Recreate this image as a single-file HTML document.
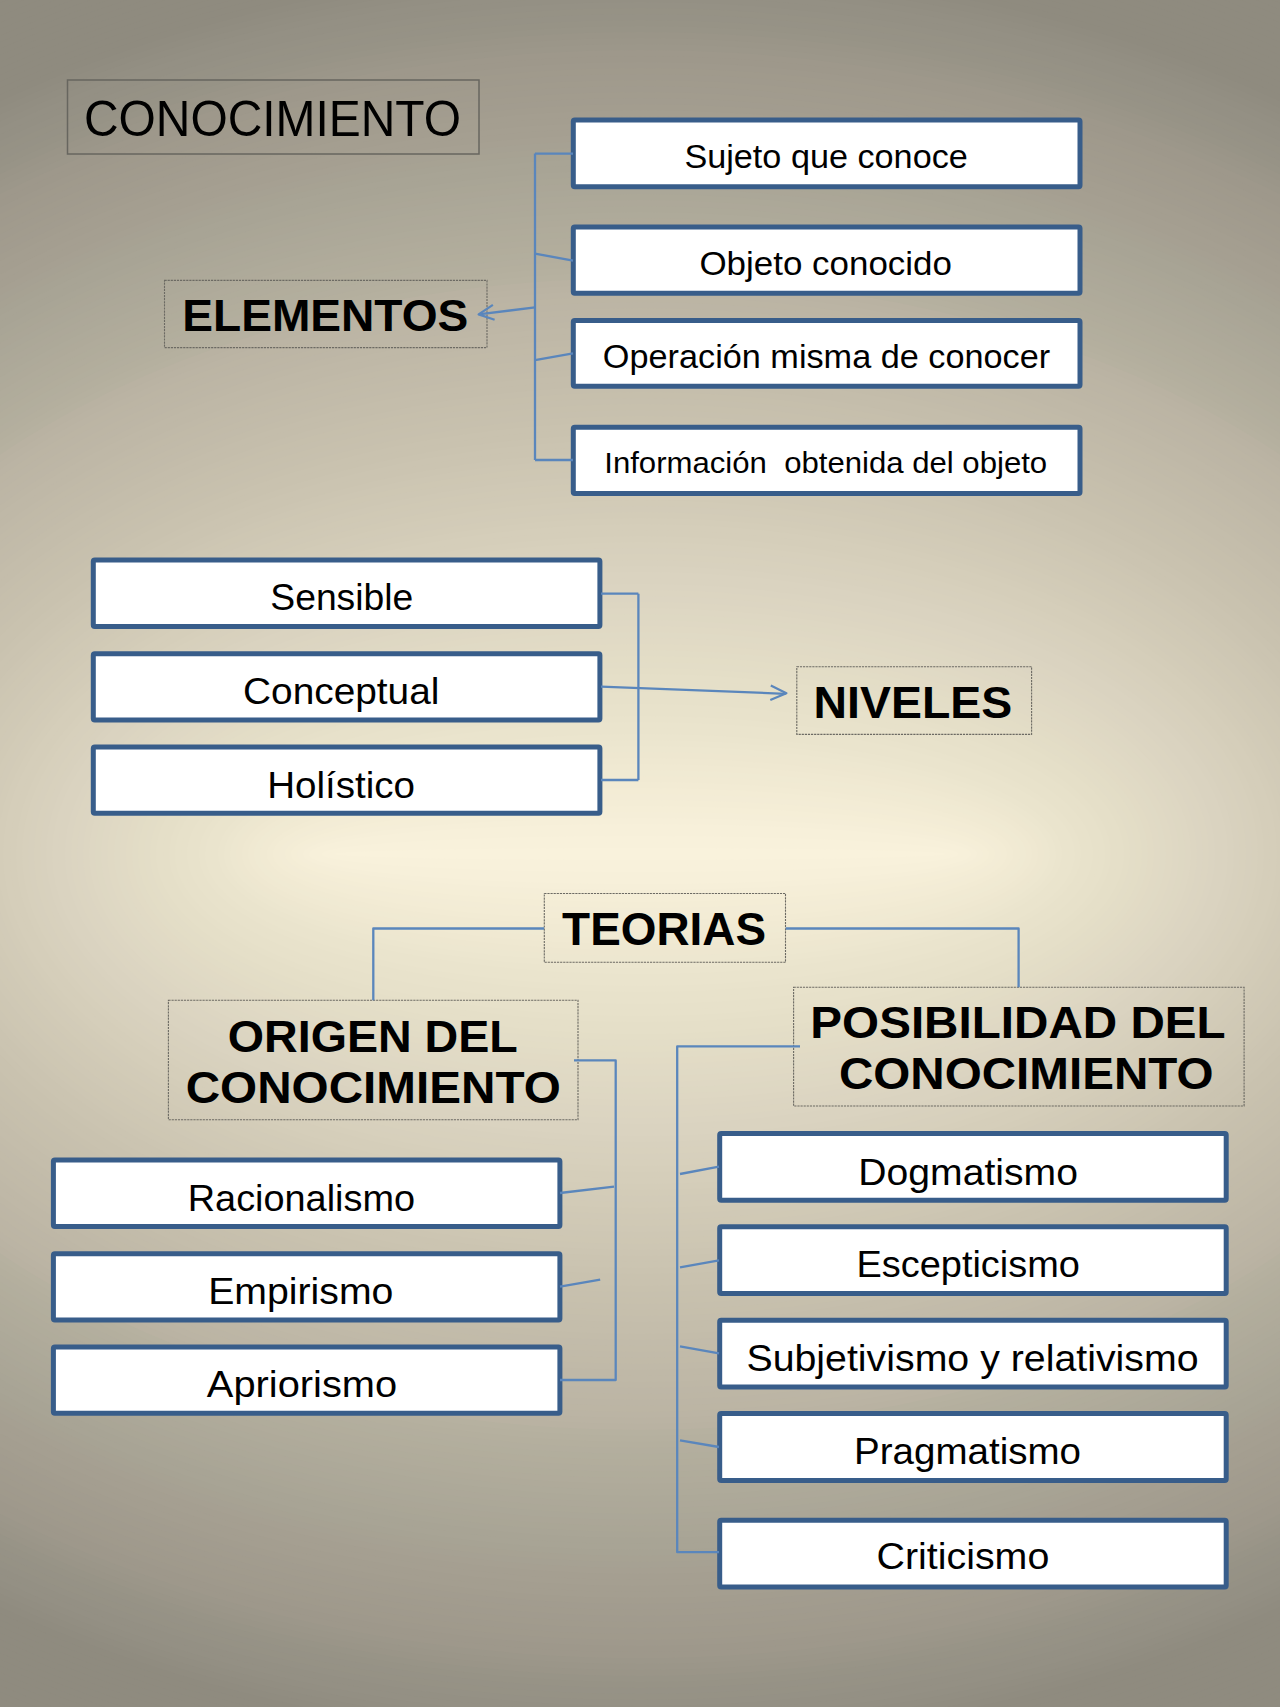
<!DOCTYPE html><html><head><meta charset="utf-8"><style>
html,body{margin:0;padding:0;}body{width:1280px;height:1707px;overflow:hidden;position:relative;background:#b5ae9c;}
#bg{position:absolute;left:0;top:0;width:1280px;height:1707px;}
svg{position:absolute;left:0;top:0;}
text{font-family:"Liberation Sans",sans-serif;fill:#000;}
</style></head><body>
<svg id="bg" width="1280" height="1707" viewBox="0 0 1280 1707"><rect width="1280" height="1707" fill="#8f8b7f"/><ellipse cx="640" cy="854" rx="1371" ry="1050" fill="#8f8b7f"/><ellipse cx="640" cy="854" rx="1365" ry="1044" fill="#8f8b7f"/><ellipse cx="640" cy="854" rx="1359" ry="1038" fill="#8f8b7f"/><ellipse cx="640" cy="854" rx="1353" ry="1032" fill="#8f8b7f"/><ellipse cx="640" cy="854" rx="1347" ry="1026" fill="#8f8b7f"/><ellipse cx="640" cy="854" rx="1340" ry="1020" fill="#8f8b7f"/><ellipse cx="640" cy="854" rx="1334" ry="1014" fill="#8f8b7f"/><ellipse cx="640" cy="854" rx="1328" ry="1008" fill="#8f8b7f"/><ellipse cx="640" cy="854" rx="1322" ry="1002" fill="#8f8b7f"/><ellipse cx="640" cy="854" rx="1316" ry="996" fill="#8f8b7f"/><ellipse cx="640" cy="854" rx="1310" ry="990" fill="#8f8b7f"/><ellipse cx="640" cy="854" rx="1304" ry="984" fill="#8f8b7f"/><ellipse cx="640" cy="854" rx="1298" ry="978" fill="#8f8b7f"/><ellipse cx="640" cy="854" rx="1291" ry="972" fill="#8f8b7f"/><ellipse cx="640" cy="854" rx="1285" ry="966" fill="#8f8b7f"/><ellipse cx="640" cy="854" rx="1279" ry="960" fill="#8f8b7f"/><ellipse cx="640" cy="854" rx="1273" ry="954" fill="#8f8b7f"/><ellipse cx="640" cy="854" rx="1267" ry="948" fill="#8f8b7f"/><ellipse cx="640" cy="854" rx="1261" ry="942" fill="#8f8b7f"/><ellipse cx="640" cy="854" rx="1255" ry="936" fill="#8f8b7f"/><ellipse cx="640" cy="854" rx="1249" ry="930" fill="#8f8b7f"/><ellipse cx="640" cy="854" rx="1242" ry="924" fill="#8f8b7f"/><ellipse cx="640" cy="854" rx="1236" ry="918" fill="#8f8b7f"/><ellipse cx="640" cy="854" rx="1230" ry="912" fill="#8f8b7f"/><ellipse cx="640" cy="854" rx="1224" ry="906" fill="#8f8b7f"/><ellipse cx="640" cy="854" rx="1218" ry="900" fill="#8f8b7f"/><ellipse cx="640" cy="854" rx="1212" ry="894" fill="#8f8b7f"/><ellipse cx="640" cy="854" rx="1206" ry="888" fill="#908c80"/><ellipse cx="640" cy="854" rx="1200" ry="882" fill="#918d81"/><ellipse cx="640" cy="854" rx="1194" ry="876" fill="#928e82"/><ellipse cx="640" cy="854" rx="1187" ry="870" fill="#938f83"/><ellipse cx="640" cy="854" rx="1181" ry="864" fill="#949084"/><ellipse cx="640" cy="854" rx="1175" ry="858" fill="#949084"/><ellipse cx="640" cy="854" rx="1169" ry="852" fill="#959185"/><ellipse cx="640" cy="854" rx="1163" ry="846" fill="#969285"/><ellipse cx="640" cy="854" rx="1157" ry="840" fill="#969286"/><ellipse cx="640" cy="854" rx="1151" ry="834" fill="#979386"/><ellipse cx="640" cy="854" rx="1145" ry="828" fill="#989487"/><ellipse cx="640" cy="854" rx="1138" ry="822" fill="#9a9588"/><ellipse cx="640" cy="854" rx="1132" ry="816" fill="#9b9689"/><ellipse cx="640" cy="854" rx="1126" ry="810" fill="#9c978a"/><ellipse cx="640" cy="854" rx="1120" ry="804" fill="#9e988b"/><ellipse cx="640" cy="854" rx="1114" ry="798" fill="#9e988b"/><ellipse cx="640" cy="854" rx="1108" ry="792" fill="#9f998c"/><ellipse cx="640" cy="854" rx="1102" ry="786" fill="#a09a8c"/><ellipse cx="640" cy="854" rx="1096" ry="780" fill="#a09a8d"/><ellipse cx="640" cy="854" rx="1089" ry="774" fill="#a19b8d"/><ellipse cx="640" cy="854" rx="1083" ry="768" fill="#a19b8e"/><ellipse cx="640" cy="854" rx="1077" ry="762" fill="#a29c8e"/><ellipse cx="640" cy="854" rx="1071" ry="756" fill="#a29c8f"/><ellipse cx="640" cy="854" rx="1065" ry="750" fill="#a39d8f"/><ellipse cx="640" cy="854" rx="1059" ry="744" fill="#a49e90"/><ellipse cx="640" cy="854" rx="1053" ry="738" fill="#a49e90"/><ellipse cx="640" cy="854" rx="1047" ry="732" fill="#a59f91"/><ellipse cx="640" cy="854" rx="1041" ry="726" fill="#a59f91"/><ellipse cx="640" cy="854" rx="1034" ry="720" fill="#a6a092"/><ellipse cx="640" cy="854" rx="1028" ry="714" fill="#a6a193"/><ellipse cx="640" cy="854" rx="1022" ry="708" fill="#a7a293"/><ellipse cx="640" cy="854" rx="1016" ry="702" fill="#a7a394"/><ellipse cx="640" cy="854" rx="1010" ry="696" fill="#a8a495"/><ellipse cx="640" cy="854" rx="1004" ry="690" fill="#a8a495"/><ellipse cx="640" cy="854" rx="998" ry="684" fill="#a9a596"/><ellipse cx="640" cy="854" rx="992" ry="678" fill="#aaa696"/><ellipse cx="640" cy="854" rx="985" ry="672" fill="#aba697"/><ellipse cx="640" cy="854" rx="979" ry="666" fill="#aba798"/><ellipse cx="640" cy="854" rx="973" ry="660" fill="#aca898"/><ellipse cx="640" cy="854" rx="967" ry="654" fill="#ada899"/><ellipse cx="640" cy="854" rx="961" ry="648" fill="#ada999"/><ellipse cx="640" cy="854" rx="955" ry="642" fill="#aeaa9a"/><ellipse cx="640" cy="854" rx="949" ry="636" fill="#afaa9a"/><ellipse cx="640" cy="854" rx="943" ry="630" fill="#b0ab9b"/><ellipse cx="640" cy="854" rx="936" ry="624" fill="#b0ac9b"/><ellipse cx="640" cy="854" rx="930" ry="618" fill="#b1ac9c"/><ellipse cx="640" cy="854" rx="924" ry="612" fill="#b2ad9c"/><ellipse cx="640" cy="854" rx="918" ry="606" fill="#b2ae9d"/><ellipse cx="640" cy="854" rx="912" ry="600" fill="#b3ae9e"/><ellipse cx="640" cy="854" rx="906" ry="594" fill="#b4af9e"/><ellipse cx="640" cy="854" rx="900" ry="588" fill="#b5b09f"/><ellipse cx="640" cy="854" rx="894" ry="582" fill="#b6b1a0"/><ellipse cx="640" cy="854" rx="888" ry="576" fill="#b9b2a2"/><ellipse cx="640" cy="854" rx="881" ry="570" fill="#bab3a3"/><ellipse cx="640" cy="854" rx="875" ry="564" fill="#bbb4a4"/><ellipse cx="640" cy="854" rx="869" ry="558" fill="#bcb5a4"/><ellipse cx="640" cy="854" rx="863" ry="552" fill="#bcb5a5"/><ellipse cx="640" cy="854" rx="857" ry="546" fill="#bdb6a5"/><ellipse cx="640" cy="854" rx="851" ry="540" fill="#bdb6a6"/><ellipse cx="640" cy="854" rx="845" ry="534" fill="#beb7a6"/><ellipse cx="640" cy="854" rx="839" ry="528" fill="#bfb8a7"/><ellipse cx="640" cy="854" rx="832" ry="522" fill="#bfb8a7"/><ellipse cx="640" cy="854" rx="826" ry="516" fill="#c0b9a8"/><ellipse cx="640" cy="854" rx="820" ry="510" fill="#c1baa8"/><ellipse cx="640" cy="854" rx="814" ry="504" fill="#c1baa9"/><ellipse cx="640" cy="854" rx="808" ry="498" fill="#c2bba9"/><ellipse cx="640" cy="854" rx="802" ry="492" fill="#c2bbaa"/><ellipse cx="640" cy="854" rx="796" ry="486" fill="#c3bcaa"/><ellipse cx="640" cy="854" rx="790" ry="480" fill="#c4bdab"/><ellipse cx="640" cy="854" rx="783" ry="474" fill="#c4bdab"/><ellipse cx="640" cy="854" rx="777" ry="468" fill="#c5beac"/><ellipse cx="640" cy="854" rx="771" ry="462" fill="#c6bfac"/><ellipse cx="640" cy="854" rx="765" ry="456" fill="#c6bfad"/><ellipse cx="640" cy="854" rx="759" ry="450" fill="#c7c0ad"/><ellipse cx="640" cy="854" rx="753" ry="444" fill="#c7c0ae"/><ellipse cx="640" cy="854" rx="747" ry="438" fill="#c8c1ae"/><ellipse cx="640" cy="854" rx="741" ry="432" fill="#c9c2af"/><ellipse cx="640" cy="854" rx="735" ry="426" fill="#c9c2af"/><ellipse cx="640" cy="854" rx="728" ry="420" fill="#cac3b0"/><ellipse cx="640" cy="854" rx="722" ry="414" fill="#cbc4b1"/><ellipse cx="640" cy="854" rx="716" ry="408" fill="#cbc4b1"/><ellipse cx="640" cy="854" rx="710" ry="402" fill="#ccc5b2"/><ellipse cx="640" cy="854" rx="704" ry="396" fill="#cdc6b3"/><ellipse cx="640" cy="854" rx="698" ry="390" fill="#cec7b3"/><ellipse cx="640" cy="854" rx="692" ry="384" fill="#cec7b4"/><ellipse cx="640" cy="854" rx="686" ry="378" fill="#cfc8b5"/><ellipse cx="640" cy="854" rx="679" ry="372" fill="#d0c9b5"/><ellipse cx="640" cy="854" rx="673" ry="366" fill="#d0c9b6"/><ellipse cx="640" cy="854" rx="667" ry="360" fill="#d1cab6"/><ellipse cx="640" cy="854" rx="661" ry="354" fill="#d2cbb7"/><ellipse cx="640" cy="854" rx="655" ry="348" fill="#d2cbb8"/><ellipse cx="640" cy="854" rx="649" ry="342" fill="#d3ccb8"/><ellipse cx="640" cy="854" rx="643" ry="336" fill="#d4cdb9"/><ellipse cx="640" cy="854" rx="637" ry="330" fill="#d5ceba"/><ellipse cx="640" cy="854" rx="630" ry="324" fill="#d5ceba"/><ellipse cx="640" cy="854" rx="624" ry="318" fill="#d6cfbb"/><ellipse cx="640" cy="854" rx="618" ry="312" fill="#d7d0bc"/><ellipse cx="640" cy="854" rx="612" ry="306" fill="#d7d0bd"/><ellipse cx="640" cy="854" rx="606" ry="300" fill="#d8d1bd"/><ellipse cx="640" cy="854" rx="600" ry="294" fill="#d8d1be"/><ellipse cx="640" cy="854" rx="594" ry="288" fill="#d9d2bf"/><ellipse cx="640" cy="854" rx="588" ry="282" fill="#dad3c0"/><ellipse cx="640" cy="854" rx="582" ry="276" fill="#dad3c0"/><ellipse cx="640" cy="854" rx="575" ry="270" fill="#dbd4c1"/><ellipse cx="640" cy="854" rx="569" ry="264" fill="#dcd5c1"/><ellipse cx="640" cy="854" rx="563" ry="258" fill="#dcd5c2"/><ellipse cx="640" cy="854" rx="557" ry="252" fill="#ddd6c2"/><ellipse cx="640" cy="854" rx="551" ry="246" fill="#ded7c3"/><ellipse cx="640" cy="854" rx="545" ry="240" fill="#ded8c3"/><ellipse cx="640" cy="854" rx="539" ry="234" fill="#dfd8c4"/><ellipse cx="640" cy="854" rx="533" ry="228" fill="#e0d9c4"/><ellipse cx="640" cy="854" rx="526" ry="222" fill="#e0dac5"/><ellipse cx="640" cy="854" rx="520" ry="216" fill="#e1dac5"/><ellipse cx="640" cy="854" rx="514" ry="210" fill="#e2dbc5"/><ellipse cx="640" cy="854" rx="508" ry="204" fill="#e2dcc6"/><ellipse cx="640" cy="854" rx="502" ry="198" fill="#e3ddc6"/><ellipse cx="640" cy="854" rx="496" ry="192" fill="#e3ddc7"/><ellipse cx="640" cy="854" rx="490" ry="186" fill="#e4dec7"/><ellipse cx="640" cy="854" rx="484" ry="180" fill="#e5dfc8"/><ellipse cx="640" cy="854" rx="477" ry="174" fill="#e5dfc8"/><ellipse cx="640" cy="854" rx="471" ry="168" fill="#e6e0c9"/><ellipse cx="640" cy="854" rx="465" ry="162" fill="#e7e1ca"/><ellipse cx="640" cy="854" rx="459" ry="156" fill="#e7e1ca"/><ellipse cx="640" cy="854" rx="453" ry="150" fill="#e8e2cb"/><ellipse cx="640" cy="854" rx="447" ry="144" fill="#e8e2cb"/><ellipse cx="640" cy="854" rx="441" ry="138" fill="#e9e3cc"/><ellipse cx="640" cy="854" rx="435" ry="132" fill="#eae4cd"/><ellipse cx="640" cy="854" rx="429" ry="126" fill="#eae4cd"/><ellipse cx="640" cy="854" rx="422" ry="120" fill="#ebe5ce"/><ellipse cx="640" cy="854" rx="416" ry="114" fill="#ece6cf"/><ellipse cx="640" cy="854" rx="410" ry="108" fill="#ede7d0"/><ellipse cx="640" cy="854" rx="404" ry="102" fill="#eee7d0"/><ellipse cx="640" cy="854" rx="398" ry="96" fill="#efe8d1"/><ellipse cx="640" cy="854" rx="392" ry="90" fill="#f0e9d2"/><ellipse cx="640" cy="854" rx="386" ry="84" fill="#f0ead3"/><ellipse cx="640" cy="854" rx="380" ry="78" fill="#f1ead3"/><ellipse cx="640" cy="854" rx="373" ry="72" fill="#f2ebd4"/><ellipse cx="640" cy="854" rx="367" ry="66" fill="#f3ecd5"/><ellipse cx="640" cy="854" rx="361" ry="60" fill="#f3ecd6"/><ellipse cx="640" cy="854" rx="355" ry="54" fill="#f4edd6"/><ellipse cx="640" cy="854" rx="349" ry="48" fill="#f5eed7"/><ellipse cx="640" cy="854" rx="343" ry="42" fill="#f5eed8"/><ellipse cx="640" cy="854" rx="337" ry="36" fill="#f6efd9"/><ellipse cx="640" cy="854" rx="331" ry="30" fill="#f7f0da"/><ellipse cx="640" cy="854" rx="324" ry="24" fill="#f7f0da"/><ellipse cx="640" cy="854" rx="318" ry="18" fill="#f8f1db"/><ellipse cx="640" cy="854" rx="312" ry="12" fill="#f8f1db"/><ellipse cx="640" cy="854" rx="306" ry="6" fill="#f9f2dc"/></svg>
<svg width="1280" height="1707" viewBox="0 0 1280 1707">
<rect x="67.5" y="80.0" width="411.5" height="74.0" fill="none" stroke="#67665f" stroke-width="1.5"/>
<rect x="164.5" y="280.4" width="322.5" height="67.2" fill="none" stroke="#6c6a63" stroke-width="1.1" stroke-dasharray="2.2 0.9"/>
<rect x="796.8" y="666.8" width="234.8" height="67.6" fill="none" stroke="#6c6a63" stroke-width="1.1" stroke-dasharray="2.2 0.9"/>
<rect x="544.3" y="893.5" width="241.2" height="68.8" fill="none" stroke="#6c6a63" stroke-width="1.1" stroke-dasharray="2.2 0.9"/>
<rect x="168.4" y="1000.3" width="409.6" height="119.4" fill="none" stroke="#6c6a63" stroke-width="1.1" stroke-dasharray="2.2 0.9"/>
<rect x="793.6" y="987.3" width="450.5" height="118.7" fill="none" stroke="#6c6a63" stroke-width="1.1" stroke-dasharray="2.2 0.9"/>
<rect x="573.3" y="120.1" width="506.7" height="66.7" rx="1.5" fill="#fff" stroke="#385D8A" stroke-width="5" stroke-linejoin="round"/>
<rect x="573.3" y="226.9" width="506.7" height="66.3" rx="1.5" fill="#fff" stroke="#385D8A" stroke-width="5" stroke-linejoin="round"/>
<rect x="573.3" y="320.4" width="506.7" height="65.9" rx="1.5" fill="#fff" stroke="#385D8A" stroke-width="5" stroke-linejoin="round"/>
<rect x="573.3" y="427.2" width="506.7" height="66.3" rx="1.5" fill="#fff" stroke="#385D8A" stroke-width="5" stroke-linejoin="round"/>
<rect x="93.3" y="560.1" width="506.6" height="66.5" rx="1.5" fill="#fff" stroke="#385D8A" stroke-width="5" stroke-linejoin="round"/>
<rect x="93.3" y="653.7" width="506.6" height="66.2" rx="1.5" fill="#fff" stroke="#385D8A" stroke-width="5" stroke-linejoin="round"/>
<rect x="93.3" y="747.1" width="506.6" height="66.1" rx="1.5" fill="#fff" stroke="#385D8A" stroke-width="5" stroke-linejoin="round"/>
<rect x="53.4" y="1160.1" width="506.5" height="66.5" rx="1.5" fill="#fff" stroke="#385D8A" stroke-width="5" stroke-linejoin="round"/>
<rect x="53.4" y="1253.7" width="506.5" height="66.2" rx="1.5" fill="#fff" stroke="#385D8A" stroke-width="5" stroke-linejoin="round"/>
<rect x="53.4" y="1347.1" width="506.5" height="66.1" rx="1.5" fill="#fff" stroke="#385D8A" stroke-width="5" stroke-linejoin="round"/>
<rect x="719.7" y="1133.5" width="506.5" height="66.8" rx="1.5" fill="#fff" stroke="#385D8A" stroke-width="5" stroke-linejoin="round"/>
<rect x="719.7" y="1226.8" width="506.5" height="66.8" rx="1.5" fill="#fff" stroke="#385D8A" stroke-width="5" stroke-linejoin="round"/>
<rect x="719.7" y="1320.2" width="506.5" height="66.8" rx="1.5" fill="#fff" stroke="#385D8A" stroke-width="5" stroke-linejoin="round"/>
<rect x="719.7" y="1413.4" width="506.5" height="67.0" rx="1.5" fill="#fff" stroke="#385D8A" stroke-width="5" stroke-linejoin="round"/>
<rect x="719.7" y="1520.2" width="506.5" height="66.8" rx="1.5" fill="#fff" stroke="#385D8A" stroke-width="5" stroke-linejoin="round"/>
<g fill="none" stroke="#5a86bc" stroke-width="2.3" stroke-linejoin="round">
<path d="M535 153.6 V460"/>
<path d="M535 153.6 H573"/>
<path d="M535 253.6 L573 260.6"/>
<path d="M535 360.2 L573 353.3"/>
<path d="M535 460 H573"/>
<path d="M535 307.4 L480.5 314.2"/>
<path d="M638.4 593.7 V780"/>
<path d="M601 593.7 H638.4"/>
<path d="M601 780 H638.4"/>
<path d="M601 686.6 L785.5 693.8"/>
<path d="M544.1 928.5 H373.3 V1000.3"/>
<path d="M785.8 928.5 H1018.6 V987.3"/>
<path d="M574 1060.4 H615.7 V1380 H560"/>
<path d="M560 1193 L614 1186.6"/>
<path d="M560 1286.7 L600.2 1279.7"/>
<path d="M800 1046.4 H677.2 V1552.2 H719"/>
<path d="M680 1174 L719 1166.7"/>
<path d="M680 1267.3 L719 1260.3"/>
<path d="M680 1346.4 L719 1353.3"/>
<path d="M680 1440.3 L719 1447"/>
<path d="M492.9 304.9 L478.6 314.4 L494.6 319.8" stroke-width="2.2"/>
<path d="M770.8 685.5 L786.4 693.3 L770.3 700.1" stroke-width="2.2"/>
</g>
<text x="272.5" y="136.0" font-size="50.87" font-weight="400" text-anchor="middle" textLength="377.1" lengthAdjust="spacingAndGlyphs" xml:space="preserve">CONOCIMIENTO</text>
<text x="325.3" y="331.0" font-size="45.06" font-weight="700" text-anchor="middle" textLength="286.0" lengthAdjust="spacingAndGlyphs" xml:space="preserve">ELEMENTOS</text>
<text x="826.1" y="168.0" font-size="32.71" font-weight="400" text-anchor="middle" textLength="283.4" lengthAdjust="spacingAndGlyphs" xml:space="preserve">Sujeto que conoce</text>
<text x="825.7" y="275.0" font-size="32.71" font-weight="400" text-anchor="middle" textLength="252.5" lengthAdjust="spacingAndGlyphs" xml:space="preserve">Objeto conocido</text>
<text x="826.5" y="368.0" font-size="32.71" font-weight="400" text-anchor="middle" textLength="447.3" lengthAdjust="spacingAndGlyphs" xml:space="preserve">Operación misma de conocer</text>
<text x="825.7" y="472.9" font-size="29.33" font-weight="400" text-anchor="middle" textLength="442.9" lengthAdjust="spacingAndGlyphs" xml:space="preserve">Información  obtenida del objeto</text>
<text x="341.8" y="610.0" font-size="37.50" font-weight="400" text-anchor="middle" textLength="143.0" lengthAdjust="spacingAndGlyphs" xml:space="preserve">Sensible</text>
<text x="341.2" y="704.0" font-size="37.50" font-weight="400" text-anchor="middle" textLength="196.3" lengthAdjust="spacingAndGlyphs" xml:space="preserve">Conceptual</text>
<text x="341.1" y="797.5" font-size="37.50" font-weight="400" text-anchor="middle" textLength="147.8" lengthAdjust="spacingAndGlyphs" xml:space="preserve">Holístico</text>
<text x="912.9" y="717.9" font-size="44.62" font-weight="700" text-anchor="middle" textLength="198.6" lengthAdjust="spacingAndGlyphs" xml:space="preserve">NIVELES</text>
<text x="664.1" y="944.6" font-size="45.35" font-weight="700" text-anchor="middle" textLength="204.0" lengthAdjust="spacingAndGlyphs" xml:space="preserve">TEORIAS</text>
<text x="372.8" y="1051.6" font-size="44.62" font-weight="700" text-anchor="middle" textLength="290.0" lengthAdjust="spacingAndGlyphs" xml:space="preserve">ORIGEN DEL</text>
<text x="373.3" y="1102.8" font-size="44.77" font-weight="700" text-anchor="middle" textLength="375.2" lengthAdjust="spacingAndGlyphs" xml:space="preserve">CONOCIMIENTO</text>
<text x="1018.0" y="1038.0" font-size="45.06" font-weight="700" text-anchor="middle" textLength="415.3" lengthAdjust="spacingAndGlyphs" xml:space="preserve">POSIBILIDAD DEL</text>
<text x="1026.2" y="1089.1" font-size="44.33" font-weight="700" text-anchor="middle" textLength="374.6" lengthAdjust="spacingAndGlyphs" xml:space="preserve">CONOCIMIENTO</text>
<text x="301.4" y="1210.7" font-size="37.50" font-weight="400" text-anchor="middle" textLength="227.3" lengthAdjust="spacingAndGlyphs" xml:space="preserve">Racionalismo</text>
<text x="300.8" y="1303.9" font-size="37.50" font-weight="400" text-anchor="middle" textLength="185.2" lengthAdjust="spacingAndGlyphs" xml:space="preserve">Empirismo</text>
<text x="302.0" y="1396.7" font-size="37.50" font-weight="400" text-anchor="middle" textLength="190.3" lengthAdjust="spacingAndGlyphs" xml:space="preserve">Apriorismo</text>
<text x="968.1" y="1184.5" font-size="37.50" font-weight="400" text-anchor="middle" textLength="219.6" lengthAdjust="spacingAndGlyphs" xml:space="preserve">Dogmatismo</text>
<text x="968.2" y="1277.3" font-size="37.50" font-weight="400" text-anchor="middle" textLength="223.4" lengthAdjust="spacingAndGlyphs" xml:space="preserve">Escepticismo</text>
<text x="972.5" y="1371.1" font-size="37.50" font-weight="400" text-anchor="middle" textLength="452.1" lengthAdjust="spacingAndGlyphs" xml:space="preserve">Subjetivismo y relativismo</text>
<text x="967.5" y="1464.3" font-size="37.50" font-weight="400" text-anchor="middle" textLength="227.0" lengthAdjust="spacingAndGlyphs" xml:space="preserve">Pragmatismo</text>
<text x="962.9" y="1569.3" font-size="37.50" font-weight="400" text-anchor="middle" textLength="172.8" lengthAdjust="spacingAndGlyphs" xml:space="preserve">Criticismo</text>
</svg></body></html>
